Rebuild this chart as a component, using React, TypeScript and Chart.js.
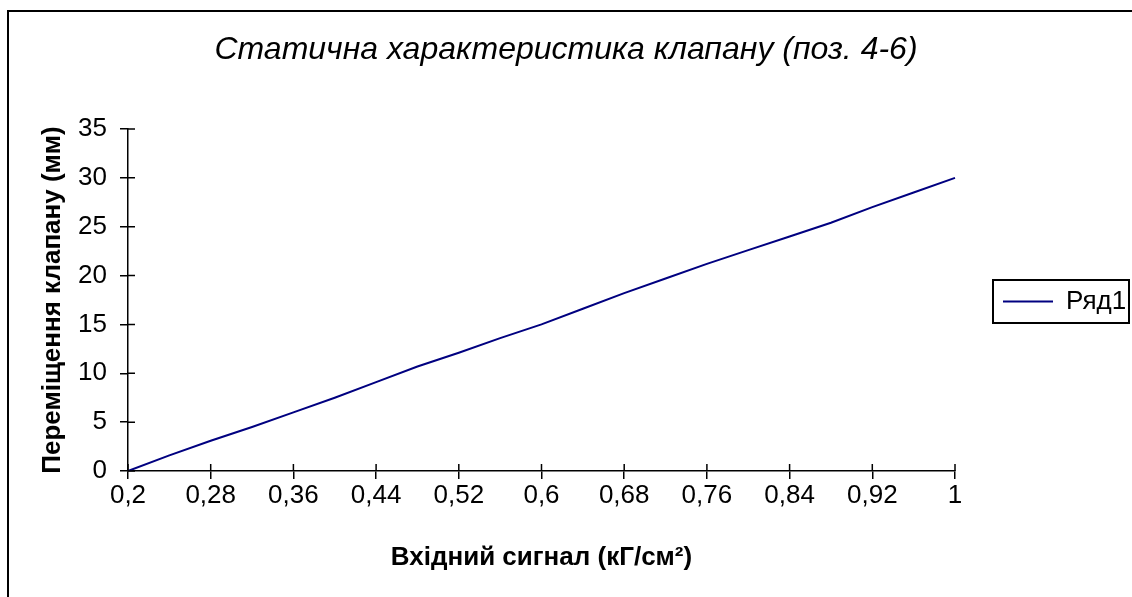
import React, { useEffect, useRef } from 'react';
import { Chart, registerables } from 'chart.js';

Chart.register(...registerables);

// Input signal, kG/cm^2 (categories)
const signalValues = [0.2, 0.24, 0.28, 0.32, 0.36, 0.4, 0.44, 0.48, 0.52, 0.56, 0.6, 0.64, 0.68, 0.72, 0.76, 0.8, 0.84, 0.88, 0.92, 0.96, 1.0];
// Valve displacement, mm
const displacementValues = [0, 1.6, 3.1, 4.5, 6.0, 7.5, 9.1, 10.7, 12.1, 13.6, 15.0, 16.6, 18.2, 19.7, 21.2, 22.6, 24.0, 25.4, 27.0, 28.5, 30.0];
const seriesName = 'Ряд1';
const titleText = 'Статична характеристика клапану (поз. 4-6)';
const xTitleText = 'Вхідний сигнал (кГ/см²)';
const yTitleText = 'Переміщення клапану (мм)';
const yMin = 0;
const yMax = 35;
const yStep = 5;

const FONT = '"Liberation Sans", Arial, sans-serif';

const fmt = (v: number) => String(v).replace('.', ',');

const decorPlugin = {
  id: 'decor',
  beforeDraw(chart: any) {
    const { ctx, width, height } = chart;
    ctx.save();
    ctx.fillStyle = '#ffffff';
    ctx.fillRect(0, 0, width, height);
    ctx.strokeStyle = '#000000';
    ctx.lineWidth = 2;
    ctx.beginPath();
    ctx.moveTo(8, height + 2);
    ctx.lineTo(8, 11);
    ctx.lineTo(width + 2, 11);
    ctx.stroke();
    ctx.restore();
  },
  afterDraw(chart: any) {
    const { ctx } = chart;
    const xs = chart.scales.x;
    const ys = chart.scales.y;
    ctx.save();
    ctx.strokeStyle = '#000000';
    ctx.lineWidth = 1.5;
    ctx.beginPath();
    // inner halves of the crossing tick marks
    xs.ticks.forEach((_t: any, i: number) => {
      if (i % 2 !== 0) return;
      const px = xs.getPixelForTick(i);
      ctx.moveTo(px, xs.top - 7);
      ctx.lineTo(px, xs.top);
    });
    ys.ticks.forEach((_t: any, i: number) => {
      const py = ys.getPixelForTick(i);
      ctx.moveTo(ys.right, py);
      ctx.lineTo(ys.right + 7, py);
    });
    ctx.stroke();
    // legend frame
    const lg = chart.legend;
    if (lg && lg.legendHitBoxes && lg.legendHitBoxes[0]) {
      const hb = lg.legendHitBoxes[0];
      const cy = hb.top + hb.height / 2;
      const l = Math.round(hb.left - 10);
      const r = Math.round(hb.left + hb.width + 3);
      ctx.lineWidth = 2;
      ctx.strokeRect(l, Math.round(cy - 22), r - l, 43);
    }
    ctx.restore();
  },
};

export default function App() {
  const canvasRef = useRef<HTMLCanvasElement | null>(null);

  useEffect(() => {
    if (!canvasRef.current) return;
    const chart = new Chart(canvasRef.current, {
      type: 'line',
      data: {
        labels: signalValues.map(fmt),
        datasets: [
          {
            label: seriesName,
            data: displacementValues,
            borderColor: '#000080',
            backgroundColor: '#000080',
            borderWidth: 2,
            pointRadius: 0,
            pointStyle: 'line',
            tension: 0,
            fill: false,
          },
        ],
      },
      options: {
        animation: false,
        responsive: false,
        maintainAspectRatio: false,
        layout: { padding: { top: 6, left: 0, right: 0, bottom: 0 } },
        plugins: {
          title: {
            display: true,
            text: titleText,
            color: '#000000',
            font: { family: FONT, size: 32, style: 'italic', weight: 'normal' },
            padding: { top: 24.4, bottom: 60.2 },
          },
          legend: {
            display: true,
            position: 'right',
            maxWidth: 177,
            labels: {
              color: '#000000',
              font: { family: FONT, size: 26 },
              usePointStyle: true,
              pointStyleWidth: 50,
              boxHeight: 26,
              padding: 48,
            },
          },
          tooltip: { enabled: false },
        },
        scales: {
          x: {
            type: 'category',
            offset: false,
            afterFit(scale: any) {
              scale.height = 126;
            },
            grid: {
              drawOnChartArea: false,
              drawTicks: true,
              tickLength: 8,
              lineWidth: 1.5,
              color: (c: any) => (c.index % 2 === 0 ? '#000000' : 'rgba(0,0,0,0)'),
            },
            border: { display: true, color: '#000000', width: 1.5 },
            ticks: {
              autoSkip: false,
              maxRotation: 0,
              minRotation: 0,
              padding: 1.4,
              color: '#000000',
              font: { family: FONT, size: 26 },
              callback: (_v: any, i: number) => (i % 2 === 0 ? fmt(signalValues[i]) : ''),
            },
            title: {
              display: true,
              text: xTitleText,
              color: '#000000',
              font: { family: FONT, size: 26, weight: 'bold' },
              padding: { top: 0, bottom: 23.4 },
            },
          },
          y: {
            type: 'linear',
            min: yMin,
            max: yMax,
            afterFit(scale: any) {
              scale.width = 128;
            },
            grid: {
              drawOnChartArea: false,
              drawTicks: true,
              tickLength: 8,
              lineWidth: 1.5,
              color: '#000000',
            },
            border: { display: true, color: '#000000', width: 1.5 },
            ticks: {
              stepSize: yStep,
              padding: 13,
              color: '#000000',
              font: { family: FONT, size: 26 },
            },
            title: {
              display: true,
              text: yTitleText,
              color: '#000000',
              font: { family: FONT, size: 26, weight: 'bold' },
              padding: { top: 37.1, bottom: 0 },
            },
          },
        },
      },
      plugins: [decorPlugin],
    });
    return () => chart.destroy();
  }, []);

  return (
    <div style={{ position: 'fixed', left: 0, top: 0, width: 1132, height: 597, background: '#fff' }}>
      <canvas ref={canvasRef} width={1132} height={597} style={{ display: 'block' }} />
    </div>
  );
}
